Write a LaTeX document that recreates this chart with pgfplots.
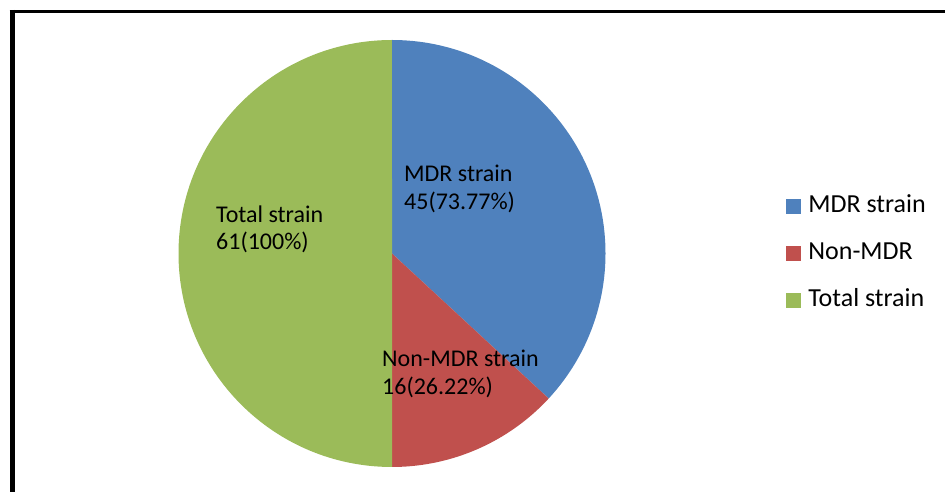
\documentclass[border=0pt]{standalone}
\usepackage{pgfplots}
\usepackage{pgfplotstable}
\pgfplotsset{compat=1.18}
\usepackage{fontspec}
\setmainfont{Carlito}

\definecolor{mdrblue}{HTML}{4F81BD}
\definecolor{nonmdrred}{HTML}{C0504D}
\definecolor{totalgreen}{HTML}{9BBB59}

% strain counts
\pgfplotstableread{
group value
MDR 45
NonMDR 16
Total 61
}\piedata

\pgfplotstablegetelem{0}{value}\of\piedata \let\vMDR\pgfplotsretval
\pgfplotstablegetelem{1}{value}\of\piedata \let\vNon\pgfplotsretval
\pgfplotstablegetelem{2}{value}\of\piedata \let\vTot\pgfplotsretval

% slice angles, clockwise from 12 o'clock
\pgfmathsetmacro\vSum{\vMDR+\vNon+\vTot}
\pgfmathsetmacro\aStart{90}
\pgfmathsetmacro\aOne{\aStart-360*(\vMDR/\vSum)}
\pgfmathsetmacro\aTwo{\aOne-360*(\vNon/\vSum)}
\pgfmathsetmacro\aThree{\aTwo-360*(\vTot/\vSum)}

\newcommand{\pieR}{213.5pt}
\newcommand{\lblfont}{\fontsize{24}{28}\selectfont}

\begin{document}
\begin{tikzpicture}
\useasboundingbox (0,0) rectangle (945pt,492pt);
\begin{axis}[
  at={(0,0)}, anchor=south west,
  scale only axis, width=945pt, height=492pt,
  xmin=0, xmax=945, ymin=0, ymax=492,
  hide axis, clip=false,
  legend style={draw=none, fill=none, inner sep=0pt, outer sep=0pt,
    at={(0.8317,0.4858)}, anchor=west,
    font=\fontsize{26}{31}\selectfont,
    row sep=22pt, column sep=8pt,
    nodes={inner sep=0pt, text height=19pt, text depth=6pt}},
  legend cell align=left,
]
\fill[mdrblue] (axis cs:392,238.5) -- ++(\aStart:\pieR)
  arc[start angle=\aStart, end angle=\aOne, radius=\pieR] -- cycle;
\fill[nonmdrred] (axis cs:392,238.5) -- ++(\aOne:\pieR)
  arc[start angle=\aOne, end angle=\aTwo, radius=\pieR] -- cycle;
\fill[totalgreen] (axis cs:392,238.5) -- ++(\aTwo:\pieR)
  arc[start angle=\aTwo, end angle=\aThree, radius=\pieR] -- cycle;

\addlegendimage{legend image code/.code={\fill[mdrblue] (0pt,-7pt) rectangle (14pt,7pt);}}
\addlegendentry{MDR strain}
\addlegendimage{legend image code/.code={\fill[nonmdrred] (0pt,-7pt) rectangle (14pt,7pt);}}
\addlegendentry{Non-MDR}
\addlegendimage{legend image code/.code={\fill[totalgreen] (0pt,-7pt) rectangle (14pt,7pt);}}
\addlegendentry{Total strain}

% data labels
\node[anchor=base west, inner sep=0pt, font=\lblfont] at (axis cs:404,310) {MDR strain};
\node[anchor=base west, inner sep=0pt, font=\lblfont] at (axis cs:404,282) {\vMDR(73.77\%)};
\node[anchor=base west, inner sep=0pt, font=\lblfont] at (axis cs:216,269) {Total strain};
\node[anchor=base west, inner sep=0pt, font=\lblfont] at (axis cs:216,242) {\vTot(100\%)};
\node[anchor=base west, inner sep=0pt, font=\lblfont] at (axis cs:382,125) {Non-MDR strain};
\node[anchor=base west, inner sep=0pt, font=\lblfont] at (axis cs:382,97) {\vNon(26.22\%)};
\end{axis}
% chart frame
\draw[line width=5pt, black] (12pt,482pt) -- (12pt,0pt);
\draw[line width=3pt, black] (9.5pt,480.5pt) -- (945pt,480.5pt);
\end{tikzpicture}
\end{document}
